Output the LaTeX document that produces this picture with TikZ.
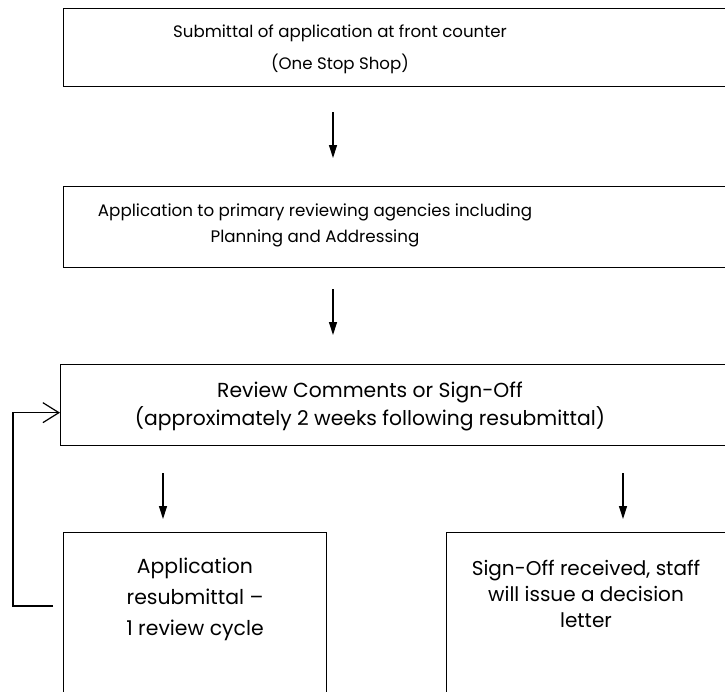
\documentclass[tikz,border=0pt]{standalone}
\usepackage{fontspec}
\setmainfont{Poppins}
\usetikzlibrary{arrows.meta,positioning}
\tikzset{
  box/.style={draw, line width=1.3pt, rectangle, inner sep=0pt, anchor=north west},
  txt/.style={align=center, inner sep=0pt, font=\fontsize{20}{26}\selectfont},
  arr/.style={line width=1.2pt, -{Triangle[length=13pt,width=8pt]}},
  back/.style={line width=1.2pt, -{Straight Barb[length=16pt,width=20pt]}},
}
\begin{document}
\begin{tikzpicture}[x=1pt,y=-1pt]
    \useasboundingbox (0,0) rectangle (725,691);
    \clip (0,0) rectangle (725,691);
    \coordinate (mid) at (333,0);
    \coordinate (lcol) at (163,0);
    \coordinate (rcol) at (623,0);
    \node[box, minimum width=700pt, minimum height=78pt] (submit) at (63,8) {};
    \node[box, minimum width=700pt, minimum height=81pt] (apply) at (63,186) {};
    \node[box, minimum width=700pt, minimum height=81pt] (review) at (60,364) {};
    \node[box, minimum width=263pt, minimum height=200pt] (resub) at (63,532) {};
    \node[box, minimum width=300pt, minimum height=200pt] (signoff) at (446,532) {};
    \node[txt, font=\fontsize{16.6}{32}\selectfont] (submitText) at (340,49) {Submittal of application at front counter\\(One Stop Shop)};
    \node[txt, font=\fontsize{16.7}{26}\selectfont] (applyText) at (315,225) {Application to primary reviewing agencies including\\Planning and Addressing};
    \node[txt, font=\fontsize{20.3}{28}\selectfont] (reviewText) at (370,406) {Review Comments or Sign-Off\\(approximately 2 weeks following resubmittal)};
    \node[txt, font=\fontsize{20.4}{31}\selectfont] (resubText) at (195,599) {Application\\resubmittal –\\1 review cycle};
    \node[txt] (signoffText) at (586,594) {Sign-Off received, staff\\will issue a decision\\letter};
    \draw[arr, shorten <=25pt, shorten >=28pt] (submit.south -| mid) -- (apply.north -| mid);
    \draw[arr, shorten <=21pt, shorten >=29pt] (apply.south -| mid) -- (review.north -| mid);
    \draw[arr, shorten <=27pt, shorten >=13pt] (review.south -| lcol) -- (resub.north -| lcol);
    \draw[arr, shorten <=27pt, shorten >=13pt] (review.south -| rcol) -- (signoff.north -| rcol);
    \coordinate (fb) at (53,606);
    \draw[back] (fb) -- (13,606) |- ([yshift=-7.5pt]review.west);
\end{tikzpicture}
\end{document}
